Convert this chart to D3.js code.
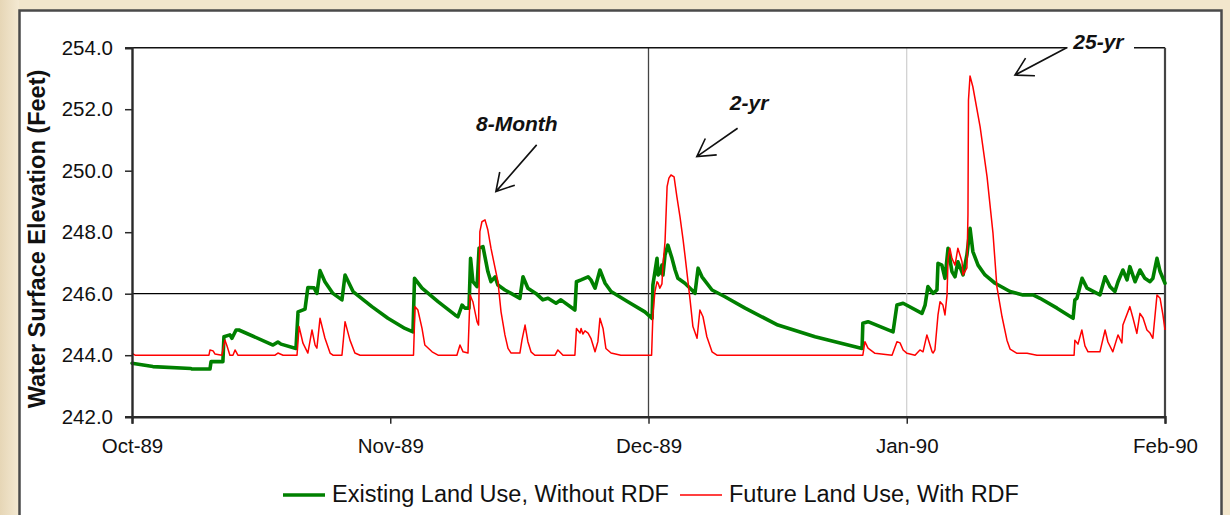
<!DOCTYPE html>
<html><head><meta charset="utf-8">
<script src="https://cdn.jsdelivr.net/npm/d3@7"></script>
<style>
html,body{margin:0;padding:0;background:#f2e6cc;}
svg{display:block;}
text{font-family:"Liberation Sans",Arial,Helvetica,sans-serif;}
</style></head><body>
<svg id="chart" width="1230" height="515"></svg>
<script>
// ---- data (t = months since Oct-89, v = water surface elevation, ft) ----
const monthLabels = ["Oct-89","Nov-89","Dec-89","Jan-90","Feb-90"];
const yTickValues = [242,244,246,248,250,252,254];
const seriesNames = ["Existing Land Use, Without RDF","Future Land Use, With RDF"];

const existing = [[0,243.74],[0.081,243.63],[0.228,243.57],[0.232,243.55],[0.302,243.55],[0.306,243.79],[0.352,243.79],[0.356,244.60],[0.379,244.66],[0.387,244.55],[0.403,244.82],[0.414,244.82],[0.546,244.33],[0.565,244.43],[0.577,244.36],[0.635,244.22],[0.643,245.41],[0.670,245.50],[0.681,246.20],[0.705,246.19],[0.716,246.01],[0.728,246.75],[0.747,246.39],[0.778,246.01],[0.813,245.80],[0.825,246.61],[0.856,246.07],[0.929,245.58],[0.991,245.20],[1.057,244.87],[1.088,244.76],[1.094,246.50],[1.123,246.18],[1.185,245.74],[1.251,245.31],[1.262,245.25],[1.278,245.63],[1.289,245.53],[1.305,245.53],[1.311,247.15],[1.320,246.39],[1.336,246.23],[1.344,247.48],[1.359,247.53],[1.378,246.72],[1.390,246.39],[1.406,246.55],[1.417,246.28],[1.444,246.12],[1.468,246.01],[1.502,245.85],[1.514,246.55],[1.533,246.18],[1.564,246.01],[1.591,245.80],[1.611,245.85],[1.642,245.69],[1.661,245.80],[1.715,245.47],[1.721,246.39],[1.739,246.45],[1.766,246.55],[1.777,246.45],[1.793,246.18],[1.812,246.77],[1.832,246.34],[1.855,246.07],[1.920,245.74],[1.986,245.41],[2.014,245.20],[2.017,246.28],[2.033,247.15],[2.037,246.61],[2.044,246.67],[2.052,246.93],[2.056,246.61],[2.064,247.26],[2.075,247.58],[2.091,247.15],[2.103,246.77],[2.114,246.50],[2.141,246.34],[2.168,246.12],[2.180,246.01],[2.192,246.83],[2.207,246.55],[2.246,246.12],[2.296,245.90],[2.374,245.53],[2.501,244.98],[2.645,244.60],[2.827,244.22],[2.830,245.04],[2.850,245.09],[2.947,244.76],[2.962,245.63],[2.986,245.69],[3.059,245.36],[3.071,245.63],[3.082,246.23],[3.102,246.01],[3.117,246.12],[3.121,246.99],[3.136,246.93],[3.148,246.50],[3.160,247.48],[3.175,246.72],[3.187,246.55],[3.198,247.04],[3.218,246.61],[3.233,247.26],[3.245,248.13],[3.256,247.37],[3.276,246.93],[3.303,246.61],[3.342,246.34],[3.400,246.07],[3.450,245.96],[3.489,245.96],[3.516,245.85],[3.582,245.53],[3.644,245.20],[3.651,245.80],[3.659,245.85],[3.679,246.50],[3.698,246.18],[3.748,245.96],[3.768,246.55],[3.787,246.23],[3.806,246.07],[3.818,246.39],[3.837,246.77],[3.853,246.45],[3.864,246.88],[3.884,246.39],[3.903,246.77],[3.922,246.50],[3.942,246.39],[3.953,246.50],[3.969,247.15],[3.981,246.72],[4.000,246.34]];

const future = [[0,244.06],[0.012,244.0],[0.298,244.0],[0.302,244.17],[0.314,244.14],[0.321,244.04],[0.348,244.0],[0.360,244.49],[0.368,244.30],[0.379,244.0],[0.391,244.0],[0.399,244.17],[0.410,244.0],[0.554,244.0],[0.565,244.07],[0.585,244.0],[0.639,244.0],[0.647,244.93],[0.662,244.39],[0.681,244.07],[0.697,244.82],[0.709,244.33],[0.716,244.23],[0.728,245.20],[0.747,244.56],[0.767,244.07],[0.778,244.0],[0.813,244.0],[0.825,245.09],[0.844,244.49],[0.863,244.07],[0.883,244.0],[1.090,244.0],[1.096,245.58],[1.107,245.47],[1.123,244.87],[1.134,244.33],[1.162,244.11],[1.185,244.0],[1.258,244.0],[1.270,244.33],[1.282,244.11],[1.301,244.07],[1.309,245.96],[1.320,245.74],[1.336,245.09],[1.342,244.98],[1.347,248.02],[1.355,248.34],[1.367,248.40],[1.378,248.07],[1.390,247.48],[1.406,246.83],[1.417,246.39],[1.429,245.41],[1.444,244.66],[1.456,244.22],[1.468,244.07],[1.502,244.07],[1.510,244.49],[1.522,244.98],[1.533,244.44],[1.545,244.11],[1.560,244.0],[1.638,244.0],[1.649,244.17],[1.669,244.0],[1.715,244.0],[1.721,244.87],[1.735,244.72],[1.739,244.87],[1.746,244.69],[1.754,244.79],[1.766,244.72],[1.777,244.55],[1.793,244.11],[1.804,244.44],[1.812,245.20],[1.824,244.87],[1.835,244.22],[1.855,244.07],[1.893,244.0],[2.012,244.0],[2.017,245.31],[2.025,246.07],[2.033,246.39],[2.037,246.35],[2.044,246.18],[2.052,246.32],[2.056,246.93],[2.064,247.69],[2.072,249.48],[2.079,249.76],[2.087,249.86],[2.099,249.80],[2.110,249.15],[2.122,248.50],[2.134,247.75],[2.141,247.26],[2.161,245.80],[2.172,244.93],[2.188,244.55],[2.199,245.47],[2.211,245.25],[2.226,244.60],[2.246,244.11],[2.265,244.0],[2.830,244.0],[2.838,244.44],[2.850,244.23],[2.877,244.06],[2.943,244.0],[2.962,244.44],[2.974,244.40],[2.986,244.17],[3.001,244.06],[3.032,244.0],[3.051,244.17],[3.063,244.11],[3.078,244.66],[3.090,244.33],[3.098,244.11],[3.102,244.07],[3.109,244.17],[3.121,245.31],[3.129,245.74],[3.140,245.63],[3.148,245.31],[3.156,245.96],[3.160,247.15],[3.167,247.48],[3.175,247.15],[3.187,246.93],[3.198,247.48],[3.214,247.04],[3.218,246.61],[3.233,246.84],[3.237,248.56],[3.239,252.30],[3.245,253.08],[3.256,252.73],[3.284,251.43],[3.311,249.80],[3.334,247.96],[3.349,246.23],[3.369,245.25],[3.388,244.49],[3.400,244.20],[3.427,244.06],[3.466,244.06],[3.504,244.0],[3.648,244.0],[3.651,244.49],[3.663,244.36],[3.678,244.82],[3.690,244.30],[3.702,244.11],[3.748,244.11],[3.768,244.82],[3.779,244.43],[3.798,244.11],[3.818,244.66],[3.833,244.40],[3.837,244.98],[3.864,245.58],[3.876,245.21],[3.891,244.71],[3.903,245.36],[3.915,245.21],[3.930,244.82],[3.942,244.72],[3.953,244.55],[3.969,245.96],[3.981,245.85],[3.992,245.31],[4.000,244.82]];

const annotationLabels = ["8-Month","2-yr","25-yr"];
const annotationTextAt = [[1.332,251.29],[2.315,251.97],[3.645,253.96]];
const annotationFrom = [[1.567,250.84],[2.345,251.38],[3.619,254.0]];
const annotationTo = [[1.409,249.32],[2.187,250.46],[3.419,253.11]];

// ---- layout ----
const svg = d3.select("#chart");
const L = 132, R = 1165, T = 47.7, B = 416.7;
const x = d3.scaleLinear().domain([0, 4]).range([L, R]);
const y = d3.scaleLinear().domain([242, 254]).range([B, T]);

// background & panel
svg.append("rect").attr("x",0).attr("y",0).attr("width",1230).attr("height",515).attr("fill","#f2e6cc");
const bg = svg.append("defs").append("linearGradient").attr("id","lg").attr("x1",0).attr("x2",1).attr("y1",0).attr("y2",0);
bg.append("stop").attr("offset","0").attr("stop-color","#e6d6b6");
bg.append("stop").attr("offset","1").attr("stop-color","#f4e9d2");
svg.append("rect").attr("x",0).attr("y",0).attr("width",19).attr("height",515).attr("fill","url(#lg)");
svg.append("rect").attr("x",19.5).attr("y",10.5).attr("width",1202).attr("height",530)
  .attr("fill","#fff").attr("stroke","#4a4a4a").attr("stroke-width",2.5);

// grid / reference lines
svg.append("line").attr("x1",L).attr("x2",R).attr("y1",y(246)).attr("y2",y(246)).attr("stroke","#000").attr("stroke-width",1.2);
svg.append("line").attr("x1",x(2)).attr("x2",x(2)).attr("y1",T).attr("y2",B).attr("stroke","#444").attr("stroke-width",1.3);
svg.append("line").attr("x1",x(3)).attr("x2",x(3)).attr("y1",T).attr("y2",B).attr("stroke","#c4c4c4").attr("stroke-width",1);

// plot border top & right
svg.append("line").attr("x1",L).attr("x2",R).attr("y1",T).attr("y2",T).attr("stroke","#111").attr("stroke-width",1.5);
svg.append("line").attr("x1",R).attr("x2",R).attr("y1",T).attr("y2",B).attr("stroke","#444").attr("stroke-width",2.2);

// series
const line = d3.line().x(d => x(d[0])).y(d => y(d[1]));
svg.append("path").datum(existing).attr("d", line).attr("fill","none")
  .attr("stroke","#008000").attr("stroke-width",3.6).attr("stroke-linejoin","round").attr("stroke-linecap","round");
svg.append("path").datum(future).attr("d", line).attr("fill","none")
  .attr("stroke","#ff0000").attr("stroke-width",1.5).attr("stroke-linejoin","round");

// axes
const yAxis = svg.append("g").attr("transform",`translate(${L},0)`)
  .call(d3.axisLeft(y).tickValues(yTickValues).tickFormat(d3.format(".1f")).tickSize(7).tickPadding(12));
const xAxis = svg.append("g").attr("transform",`translate(0,${B})`)
  .call(d3.axisBottom(x).tickValues([0,1,2,3,4]).tickFormat(i => monthLabels[i]).tickSize(7).tickPadding(15));
[yAxis, xAxis].forEach(g => {
  g.select(".domain").attr("stroke","#2a2a2a").attr("stroke-width",2.4);
  g.selectAll(".tick line").attr("stroke","#2a2a2a").attr("stroke-width",1.5);
  g.selectAll("text").attr("font-size","20.5px").attr("fill","#111")
    .style("font-family",'"Liberation Sans",Arial,sans-serif');
});

// y title
svg.append("text").attr("transform","translate(45,239) rotate(-90)")
  .attr("text-anchor","middle").attr("font-weight","bold").attr("font-size","23.5px").attr("fill","#111")
  .text("Water Surface Elevation (Feet)");

// 25-yr label white background (covers plot border)
svg.append("rect").attr("x",1067.5).attr("y",36).attr("width",66.5).attr("height",18).attr("fill","#fff");

// annotations
annotationLabels.forEach((lab, i) => {
  const [x0,y0] = [x(annotationFrom[i][0]), y(annotationFrom[i][1])];
  const [x1,y1] = [x(annotationTo[i][0]), y(annotationTo[i][1])];
  const ang = Math.atan2(y0 - y1, x0 - x1), len = 20, spread = Math.PI/6;
  const h1 = [x1 + len*Math.cos(ang+spread), y1 + len*Math.sin(ang+spread)];
  const h2 = [x1 + len*Math.cos(ang-spread), y1 + len*Math.sin(ang-spread)];
  svg.append("path").attr("d",`M${x0},${y0}L${x1},${y1}M${h1[0]},${h1[1]}L${x1},${y1}L${h2[0]},${h2[1]}`)
    .attr("fill","none").attr("stroke","#111").attr("stroke-width",1.6);
  svg.append("text").attr("x", x(annotationTextAt[i][0])).attr("y", y(annotationTextAt[i][1]))
    .attr("font-weight","bold").attr("font-style","italic").attr("font-size","21px").attr("fill","#111")
    .text(lab);
});

// legend
const legendColors = ["#008000","#ff0000"], legendWidths = [3.6,1.5];
const legendX = [283, 680];
seriesNames.forEach((n,i) => {
  svg.append("line").attr("x1",legendX[i]).attr("x2",legendX[i]+42).attr("y1",495).attr("y2",495)
    .attr("stroke",legendColors[i]).attr("stroke-width",legendWidths[i]);
  svg.append("text").attr("x",legendX[i]+49).attr("y",501.5).attr("font-size","23.5px").attr("fill","#111").text(n);
});
</script>
</body></html>
